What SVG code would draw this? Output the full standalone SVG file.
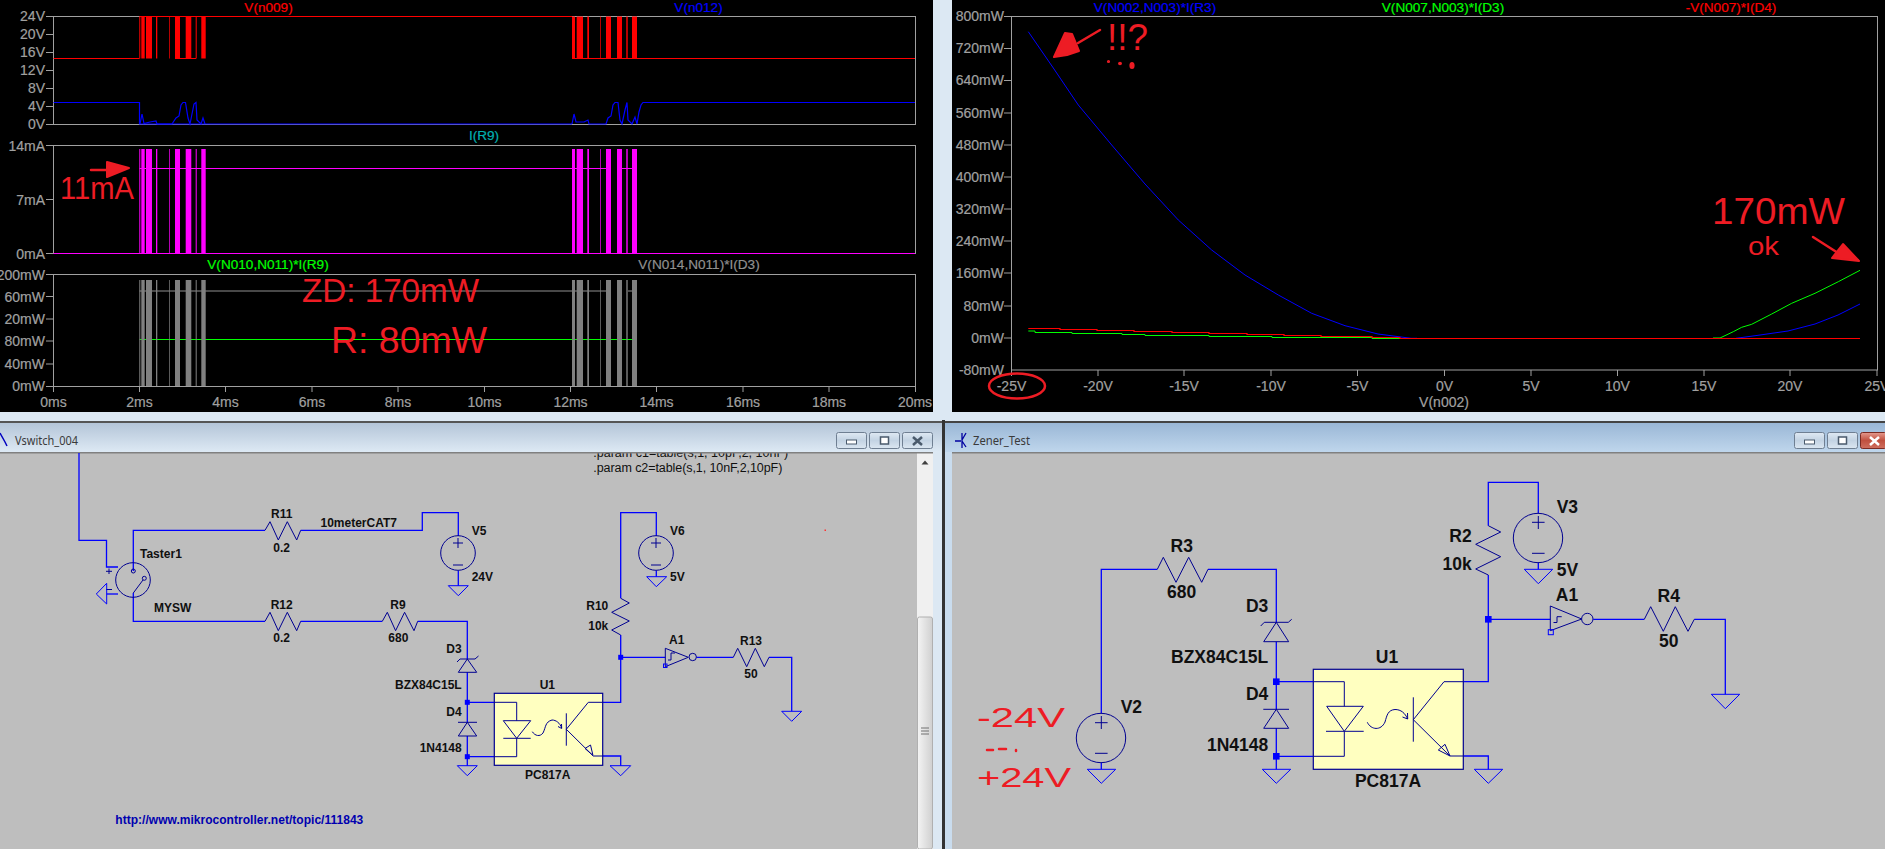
<svg xmlns="http://www.w3.org/2000/svg" width="1885" height="849" viewBox="0 0 1885 849">
<style>
text{font-family:"Liberation Sans",Arial,sans-serif}
.ax{font-size:14px;fill:#a0a0a0;stroke:#a0a0a0;stroke-width:.2}
.e{text-anchor:end}.m{text-anchor:middle}
.pt{font-size:13.6px;stroke-width:.2}
.fr{fill:none;stroke:#a0a0a0;stroke-width:1}
.tr{fill:none;stroke-width:1.2}
.w{fill:none;stroke:#0000ff;stroke-width:1.3}
.c{fill:none;stroke:#000090;stroke-width:1}
.g{fill:none;stroke:#0000ff;stroke-width:1}
.l{font-weight:bold;font-size:12px;fill:#101010}
.L{font-weight:bold;font-size:17.5px;fill:#101010}
.p{font-size:12.5px;fill:#101010}
.t{font-family:"Noto Sans","Open Sans",sans-serif;font-size:12.5px;fill:#3a3a3a}
.hand{fill:#ed1c24;font-family:"Liberation Sans",sans-serif}
.ink{fill:#ed1c24;stroke:#ed1c24;stroke-width:2;stroke-linejoin:round;stroke-linecap:round}
.inkl{fill:none;stroke:#ed1c24;stroke-width:2.5;stroke-linecap:round;stroke-linejoin:round}
.btn{stroke:#6f7f92;stroke-width:1}
.j{fill:#0000ff}
</style>
<defs>
<linearGradient id="tb1" x1="0" y1="0" x2="0" y2="1"><stop offset="0" stop-color="#b4c5d8"/><stop offset="1" stop-color="#dde9f4"/></linearGradient>
<linearGradient id="tb2" x1="0" y1="0" x2="0" y2="1"><stop offset="0" stop-color="#9ab7d6"/><stop offset="1" stop-color="#bfd6ec"/></linearGradient>
<linearGradient id="bt" x1="0" y1="0" x2="0" y2="1"><stop offset="0" stop-color="#dfe9f3"/><stop offset=".5" stop-color="#c3d3e3"/><stop offset="1" stop-color="#dbe6f1"/></linearGradient>
<linearGradient id="bc" x1="0" y1="0" x2="0" y2="1"><stop offset="0" stop-color="#e59a8e"/><stop offset=".5" stop-color="#c0503f"/><stop offset="1" stop-color="#cf6f5f"/></linearGradient>
<linearGradient id="sb" x1="0" y1="0" x2="1" y2="0"><stop offset="0" stop-color="#f4f4f4"/><stop offset="1" stop-color="#d0d0d0"/></linearGradient>
<path id="bursts" d="M139.3 0H140.3V1H139.3ZM141.3 0H144.7V1H141.3ZM146 0H152V1H146ZM156 0H157.3V1H156ZM169.3 0H170V1H169.3ZM175 0H180V1H175ZM185.7 0H191.3V1H185.7ZM195.7 0H196.7V1H195.7ZM201.3 0H205.7V1H201.3ZM572 0H575V1H572ZM576.7 0H583V1H576.7ZM587.3 0H589V1H587.3ZM600 0H600.7V1H600ZM606 0H611V1H606ZM617 0H622V1H617ZM626.3 0H627.7V1H626.3ZM632 0H637V1H632Z"/>
</defs>
<rect width="1885" height="849" fill="#dce8f3"/>

<g id="plot-transient">
<rect x="0" y="0" width="933" height="412" fill="#000"/>
<g class="ax e">
<text x="45" y="21">24V</text><text x="45" y="39">20V</text><text x="45" y="57">16V</text><text x="45" y="75">12V</text><text x="45" y="93">8V</text><text x="45" y="111">4V</text><text x="45" y="129">0V</text>
<text x="45" y="150.5">14mA</text><text x="45" y="204.5">7mA</text><text x="45" y="258.5">0mA</text>
<text x="45" y="279.5">200mW</text><text x="45" y="301.5">60mW</text><text x="45" y="324">20mW</text><text x="45" y="346">80mW</text><text x="45" y="369">40mW</text><text x="45" y="391">0mW</text>
</g>
<g class="ax m">
<text x="53.5" y="407">0ms</text><text x="139.5" y="407">2ms</text><text x="225.5" y="407">4ms</text><text x="312" y="407">6ms</text><text x="398" y="407">8ms</text><text x="484.5" y="407">10ms</text><text x="570.5" y="407">12ms</text><text x="656.5" y="407">14ms</text><text x="743" y="407">16ms</text><text x="829" y="407">18ms</text><text x="915" y="407">20ms</text>
</g>
<text class="pt m" x="268.5" y="12" fill="#ff0000" stroke="#ff0000">V(n009)</text>
<text class="pt m" x="698.5" y="12" fill="#0000ff" stroke="#0000ff">V(n012)</text>
<text class="pt m" x="484" y="140" fill="#00b0b0" stroke="#00b0b0">I(R9)</text>
<text class="pt m" x="268" y="269" fill="#00ff00" stroke="#00ff00">V(N010,N011)*I(R9)</text>
<text class="pt m" x="699" y="269" fill="#909090" stroke="#909090">V(N014,N011)*I(D3)</text>
<rect class="fr" x="53.5" y="16.5" width="862" height="108"/>
<rect class="fr" x="53.5" y="145.5" width="862" height="108"/>
<rect class="fr" x="53.5" y="274.5" width="862" height="112"/>
<path class="fr" d="M46 16.5H53M46 34.5H53M46 52.5H53M46 70.5H53M46 88.5H53M46 106.5H53M46 124.5H53M46 145.5H53M46 199.5H53M46 253.5H53M46 274.5H53M46 296.5H53M46 319H53M46 341H53M46 364H53M46 386.5H53M53.5 387V392M139.5 387V392M225.5 387V392M312 387V392M398 387V392M484.5 387V392M570.5 387V392M656.5 387V392M743 387V392M829 387V392M915.5 387V392"/>
<!-- pane 1 -->
<use href="#bursts" fill="#ff0000" transform="translate(0,16.5) scale(1,42)"/>
<path class="tr" stroke="#ff0000" d="M53.5 58.5H139.5M139.5 16.5H572M175 58.5H196M572 58.5H637H915"/>
<path class="tr" stroke="#0000ff" d="M53.5 102.5H139.5V124H572"/>
<path class="tr" stroke="#0000ff" d="M140 124L142 114L144 123.5L150 122L156 121L157 124H172L176 118L179 116L181 105L183 102.5L185.5 102.5L188 118L190 124L192 114L194 104L196 102.5L197 120L201 124L203 118L205 124"/>
<path class="tr" stroke="#0000ff" d="M572 124L574 114L576 122L584 122L588 120L589 124H606L608 118L611 116L613 105L615 102.5L618 102.5L620 120L622 124L625 110L627 102.5L628 120L632 124L635 117L637 124L639 112L641 105L643 102.5H915"/>
<!-- pane 2 -->
<path class="tr" stroke="#ff00ff" d="M53.5 253.5H915M139.5 168.5H572M572 168.5H611M622 168.5H632"/>
<use href="#bursts" fill="#ff00ff" transform="translate(0,149) scale(1,104.5)"/>
<!-- pane 3 -->
<path class="tr" stroke="#00ff00" d="M139.5 339.5H632"/>
<path class="tr" stroke="#909090" d="M139.5 291H606M628 291H632"/>
<use href="#bursts" fill="#808080" transform="translate(0,280) scale(1,106)"/>
</g>

<g id="plot-dc">
<rect x="952" y="0" width="933" height="412" fill="#000"/>
<g class="ax e">
<text x="1004" y="21">800mW</text><text x="1004" y="53">720mW</text><text x="1004" y="85">640mW</text><text x="1004" y="118">560mW</text><text x="1004" y="150">480mW</text><text x="1004" y="182">400mW</text><text x="1004" y="214">320mW</text><text x="1004" y="246">240mW</text><text x="1004" y="278">160mW</text><text x="1004" y="311">80mW</text><text x="1004" y="343">0mW</text><text x="1004" y="375">-80mW</text>
</g>
<g class="ax m">
<text x="1011.5" y="391">-25V</text><text x="1098" y="391">-20V</text><text x="1184" y="391">-15V</text><text x="1271" y="391">-10V</text><text x="1357.5" y="391">-5V</text><text x="1444.5" y="391">0V</text><text x="1531" y="391">5V</text><text x="1617.5" y="391">10V</text><text x="1704" y="391">15V</text><text x="1790" y="391">20V</text><text x="1877" y="391">25V</text>
<text x="1444" y="407">V(n002)</text>
</g>
<text class="pt m" x="1155" y="12" fill="#0000ff" stroke="#0000ff">V(N002,N003)*I(R3)</text>
<text class="pt m" x="1443" y="12" fill="#00ff00" stroke="#00ff00">V(N007,N003)*I(D3)</text>
<text class="pt m" x="1731" y="12" fill="#ff0000" stroke="#ff0000">-V(N007)*I(D4)</text>
<rect class="fr" x="1011.5" y="16.5" width="866" height="353.5"/>
<path class="fr" d="M1004 16.5H1011M1004 48.5H1011M1004 80.5H1011M1004 113H1011M1004 145H1011M1004 177H1011M1004 209H1011M1004 241H1011M1004 273H1011M1004 306H1011M1004 338H1011M1011.5 370V376M1098 370V376M1184 370V376M1271 370V376M1357.5 370V376M1444.5 370V376M1531 370V376M1617.5 370V376M1704 370V376M1790 370V376M1877 370V376"/>
<path fill="none" stroke="#0000ff" stroke-width="1" d="M1028.3 31.7L1053.3 68L1078.3 105L1111.7 145L1145 184L1178.3 220L1211.7 250L1245 275L1278.3 295L1311.7 313.3L1345 325.7L1378 334L1411 338.3H1417M1736 338.3L1758 335.3L1788 331L1815 324L1838 315L1860 304"/>
<path fill="none" stroke="#00ff00" stroke-width="1" d="M1028.3 331H1035V332.5H1072V333.5H1122V334.5H1145V335.5H1209V336.5H1272V337.5H1372V338.5H1412M1713 338H1720L1733.3 331.7L1741.7 327.3L1751.7 324.3L1771.7 314L1791.7 303.3L1815 293.3L1838.3 281.7L1860 270.3"/>
<path fill="none" stroke="#ff0000" stroke-width="1.2" d="M1028.3 328.5H1060V329.5H1097V330.5H1134V331.5H1172V332.5H1209V333.5H1247V334.5H1284V335.5H1321V336.5H1372V337.5H1400V338.5H1860"/>
</g>

<g id="schematic-left-window">
<rect x="0" y="453" width="917" height="396" fill="#bebebe"/>
<rect x="917" y="453" width="16" height="396" fill="#f0f0f0"/>
<rect x="917.5" y="617" width="15" height="232" fill="url(#sb)" stroke="#b0b0b0" rx="2"/>
<path d="M925 460.5L921.5 464.5H928.5Z" fill="#404040"/>
<path d="M921 728H929M921 731H929M921 734H929" stroke="#707070"/>
<text class="p" x="593.3" y="457">.param c1=table(s,1, 10pF,2, 10nF)</text>
<text class="p" x="593.3" y="472.3" textLength="189">.param c2=table(s,1, 10nF,2,10pF)</text>
<text class="l" x="115.3" y="824" textLength="248" style="fill:#0000b0">http://www.mikrocontroller.net/topic/111843</text>
<rect x="824.5" y="529.5" width="1.5" height="1.5" fill="#ff3030"/>
<rect x="0" y="421" width="942" height="2" fill="#555"/>
<rect x="0" y="423" width="942" height="29" fill="url(#tb1)"/>
<rect x="0" y="452" width="933" height="1.5" fill="#808080"/>
<path d="M0 433L5 442L7 446" stroke="#0000c0" stroke-width="1.5" fill="none"/>
<text class="t" x="15" y="445" textLength="63" lengthAdjust="spacingAndGlyphs">Vswitch_004</text>
<rect class="btn" x="836.5" y="432.5" width="30" height="16" rx="2" fill="url(#bt)"/>
<rect class="btn" x="869.5" y="432.5" width="30" height="16" rx="2" fill="url(#bt)"/>
<rect class="btn" x="902.5" y="432.5" width="30" height="16" rx="2" fill="url(#bt)"/>
<rect x="846.5" y="440" width="10" height="4" fill="#fff" stroke="#4a5a6c"/>
<rect x="880.5" y="437" width="8" height="7" fill="#fff" stroke="#4a5a6c" stroke-width="1.5"/>
<path d="M913 437L922 445M922 437L913 445" stroke="#4a5a6c" stroke-width="2.5"/>
<rect x="942" y="420" width="3" height="429" fill="#333"/>
</g>

<g id="schematic-right-window">
<rect x="952" y="453" width="933" height="396" fill="#bebebe"/>
<rect x="945" y="423" width="7" height="426" fill="#c9dcee"/>
<rect x="945" y="421" width="940" height="2" fill="#444"/>
<rect x="945" y="423" width="940" height="29" fill="url(#tb2)"/>
<rect x="952" y="452" width="933" height="1.5" fill="#808080"/>
<path d="M955 441H961M962 433V448M962 440L966 433M962 441L966 447" stroke="#0000a0" stroke-width="1.3" fill="none"/>
<text class="t" x="973" y="445" textLength="57" lengthAdjust="spacingAndGlyphs">Zener_Test</text>
<rect class="btn" x="1794.5" y="432.5" width="30" height="16" rx="2" fill="url(#bt)"/>
<rect class="btn" x="1827.5" y="432.5" width="30" height="16" rx="2" fill="url(#bt)"/>
<rect x="1860.5" y="432.5" width="26" height="16" rx="2" fill="url(#bc)" stroke="#7a2a22"/>
<rect x="1804.5" y="440" width="10" height="4" fill="#fff" stroke="#4a5a6c"/>
<rect x="1838.5" y="437" width="8" height="7" fill="#fff" stroke="#4a5a6c" stroke-width="1.5"/>
<path d="M1870 437L1879 445M1879 437L1870 445" stroke="#fff" stroke-width="2.5"/>
</g>

<g id="annotations">
<text class="hand" x="60" y="199" font-size="32" textLength="74" lengthAdjust="spacingAndGlyphs">11mA</text>
<path class="inkl" d="M91 170H118"/><path class="ink" d="M107 162L129 168L107 177Z"/>
<text class="hand" x="302" y="302" font-size="34" textLength="177" lengthAdjust="spacingAndGlyphs">ZD: 170mW</text>
<text class="hand" x="331" y="353" font-size="36" textLength="156" lengthAdjust="spacingAndGlyphs">R: 80mW</text>
<text class="hand" x="1107" y="50" font-size="37" textLength="41" lengthAdjust="spacingAndGlyphs">!!?</text>
<ellipse class="ink" cx="1108.5" cy="61.5" rx=".6" ry=".6"/><ellipse class="ink" cx="1120" cy="63.5" rx="1" ry=".8"/><ellipse class="ink" cx="1132" cy="65.5" rx="1.6" ry="2.6"/>
<path class="inkl" d="M1100 30L1078 43"/><path class="ink" d="M1054 57L1065 33L1072 34L1079 51L1067 55Z"/>
<ellipse class="inkl" cx="1017" cy="386" rx="28" ry="12.5" fill="none"/>
<text class="hand" x="1712" y="224" font-size="36" textLength="133" lengthAdjust="spacingAndGlyphs">170mW</text>
<text class="hand" x="1748" y="255" font-size="26" textLength="31" lengthAdjust="spacingAndGlyphs">ok</text>
<path class="inkl" d="M1813 237L1838 253"/><path class="ink" d="M1832 258L1843 244L1859 261Z"/>
<text class="hand" x="977" y="727" font-size="28" textLength="88" lengthAdjust="spacingAndGlyphs">-24V</text>
<path class="inkl" d="M987 750H993M999 749H1006M1016 750V751"/>
<text class="hand" x="977" y="787" font-size="28" textLength="94" lengthAdjust="spacingAndGlyphs">+24V</text>
</g>

<g id="connectors">
<!-- left schematic wires -->
<path class="w" d="M79 453V540.3H106.5V567H118"/>
<path class="w" d="M133.3 571V530.3H265M300.7 530.3H422.3V512.7H458.3V536"/>
<path class="w" d="M458.3 570.5V585.7"/>
<path class="w" d="M133.3 593V621.3H265M300.7 621.3H382.3M417.7 621.3H467.3V659"/>
<path class="w" d="M467.3 672.3V722.3M467.3 736V765.7"/>
<path class="w" d="M467.3 702.3H516.7V720.7M516.7 738.3V756.7H467.3"/>
<path class="w" d="M588.3 702.3H620.7V635M620.7 598.3V512.7H656.3V536M656.3 570.5V576.7"/>
<path class="w" d="M620.7 657.3H665.3M696.7 657.3H733.3M769 657.3H791.7V711.3"/>
<path class="w" d="M593.3 756H620.7V765.7"/>
<path class="w" d="M106.7 594H118"/>
<!-- right schematic wires -->
<path class="w" d="M1101.3 713.3V569.3H1157.3M1208 569.3H1276.3V622.3"/>
<path class="w" d="M1276.3 641.7V709.3M1276.3 728.3V769.3"/>
<path class="w" d="M1276.3 681.7H1344.3V706.3M1344.3 731.3V756.3H1276.3"/>
<path class="w" d="M1444 681.7H1488.3V575M1488.3 525.7V482.3H1538.3V513.3M1538.3 562.7V569.3"/>
<path class="w" d="M1488.3 619.3H1550.3M1593.3 619.3H1644.3M1694.3 619.3H1725.3V694.3"/>
<path class="w" d="M1450 756H1488.3V769.3"/>
<path class="w" d="M1101.3 762.7V769.3"/>
</g>

<g id="Taster1">
<circle class="c" cx="133" cy="580" r="17.3"/><circle class="c" cx="133.3" cy="571" r="2"/><circle class="c" cx="144.3" cy="578.3" r="2"/>
<path class="c" d="M133.3 593L143 580M106 571.3H112M109 568.5V574M106 589.5H112"/>
<path class="g" d="M106.7 583.3V604L96.3 594Z"/>
<text class="l" x="140" y="558.3">Taster1</text>
<text class="l" x="154" y="611.7">MYSW</text>
</g>
<g id="R11"><path class="c" d="M265 530.3L270 521.7L278.3 540L287.3 521.7L296.7 540L300.7 530.3"/><text class="l m" x="281.7" y="517.7">R11</text><text class="l m" x="281.7" y="552.3">0.2</text><text class="l" x="320.5" y="527">10meterCAT7</text></g>
<g id="R12"><path class="c" d="M265 621.3L270 612.3L278.3 630.7L287.3 612.3L296.7 630.7L300.7 621.3"/><text class="l m" x="281.7" y="609">R12</text><text class="l m" x="281.7" y="642.3">0.2</text></g>
<g id="R9"><path class="c" d="M382.3 621.3L387.3 612.3L395.6 630.7L404.6 612.3L414 630.7L417.7 621.3"/><text class="l m" x="398" y="609">R9</text><text class="l m" x="398.3" y="642.3">680</text></g>
<g id="V5"><circle class="c" cx="458" cy="553" r="17.3"/><path class="c" d="M453 543H463M458 538V548M453 565H463"/><path class="g" d="M448.3 585.7H468.3L458.3 595.7Z"/><text class="l" x="471.7" y="535">V5</text><text class="l" x="471.7" y="581.3">24V</text></g>
<g id="V6"><circle class="c" cx="656" cy="553" r="17.3"/><path class="c" d="M651 543H661M656 538V548M651 565H661"/><path class="g" d="M646.7 576.7H666.7L656.3 586.7Z"/><text class="l" x="670" y="535">V6</text><text class="l" x="670" y="581.3">5V</text></g>
<g id="D3"><path class="c" d="M458.3 672.3H476.7L467.3 659ZM457 662L460 659H475L478.5 656"/><text class="l e" x="461.7" y="653">D3</text><text class="l e" x="461.7" y="689">BZX84C15L</text></g>
<g id="D4"><path class="c" d="M458.3 736H476.7L467.3 722.3ZM458 722.3H477"/><text class="l e" x="461.7" y="716.3">D4</text><text class="l e" x="461.7" y="752.3">1N4148</text><path class="g" d="M457.3 765.7H477.3L467.3 775.7Z"/></g>
<g id="U1"><rect x="494.3" y="693.3" width="108.4" height="72" fill="#ffffc0" stroke="#000090" stroke-width="1.2"/>
<path class="c" d="M494.3 702.3H516.7V720.7M516.7 738.3V756.7H494.3M503.3 720.7H530.7L516.7 738.3ZM503.3 738.3H530.7M532.3 731.7C535 736 540 737 543 733C546 727 545 722 552 720C556 720 560 723 561.7 728M558 726.5L561.7 728.5L561.5 724M566.3 713.3V745.7M566.3 729.3L588.3 702.3H602.7M566.3 729.3L593.3 756H602.7M585 748.5L593 755.5L590.5 745Z"/>
<text class="l m" x="547.3" y="689">U1</text><text class="l m" x="547.7" y="779">PC817A</text><path class="g" d="M610 765.7H630.7L620.7 775.7Z"/></g>
<g id="R10"><path class="c" d="M620.7 635L611.7 630L629.3 621L611.7 612.3L629.3 603L620.7 598.3"/><text class="l e" x="608.3" y="610">R10</text><text class="l e" x="608.3" y="630.3">10k</text></g>
<g id="A1"><path class="c" d="M665.3 648.3V666.7L688.3 657.3ZM668 660H671V653H675"/><circle class="c" cx="692.7" cy="657" r="3.7"/><rect x="663.5" y="664" width="3.5" height="3.5" fill="none" stroke="#0000ff"/><text class="l m" x="676.7" y="644">A1</text></g>
<g id="R13"><path class="c" d="M733.3 657.3L737.7 648.3L746.7 666.7L755.3 648.3L764.3 666.7L769 657.3"/><text class="l m" x="751" y="645">R13</text><text class="l m" x="751" y="678.3">50</text><path class="g" d="M781.7 711.3H801.7L791.7 721.3Z"/></g>
<rect class="j" x="464.8" y="699.8" width="5" height="5"/><rect class="j" x="464.8" y="754.2" width="5" height="5"/><rect class="j" x="618.2" y="654.8" width="5" height="5"/>

<g id="V2"><circle class="c" cx="1101" cy="738" r="24.7"/><path class="c" d="M1095 722.7H1107.6M1101.3 716V729M1095 753.3H1107.6"/><path class="g" d="M1087.3 769.3H1115.7L1101.3 783.3Z"/><text class="L" x="1120.7" y="712.7">V2</text></g>
<g id="R3"><path class="c" d="M1157.3 569.3L1163.3 557.3L1176 582.3L1188.7 557.3L1201.7 582.3L1208 569.3"/><text class="L m" x="1181.7" y="552.3">R3</text><text class="L m" x="1181.7" y="598.3">680</text></g>
<g id="D3r"><path class="c" d="M1263.7 641.7H1288.7L1276.3 622.3ZM1260.7 626L1264.3 622.3H1288.3L1291.7 619.3"/><text class="L e" x="1268.3" y="612.3">D3</text><text class="L e" x="1268.3" y="662.7">BZX84C15L</text></g>
<g id="D4r"><path class="c" d="M1263.7 728.3H1288.7L1276.3 709.3ZM1263.3 709.3H1289"/><text class="L e" x="1268.3" y="700.3">D4</text><text class="L e" x="1268.3" y="750.7">1N4148</text><path class="g" d="M1262.3 769.3H1290.7L1276.3 783.3Z"/></g>
<g id="U1r"><rect x="1313.3" y="669.3" width="150" height="100" fill="#ffffc0" stroke="#000090" stroke-width="1.2"/>
<path class="c" d="M1313.3 681.7H1344.3V706.3M1344.3 731.3V756.3H1313.3M1326.7 706.3H1363.3L1344.3 731.3ZM1326 731.3H1363.7M1367.3 722.3C1371 730 1381 731 1385 722C1387 715 1388 710 1395 709.5C1401 709.5 1405 713 1407.7 719M1402.5 717L1407.7 719L1407.5 713M1413.3 697.3V741.7M1413.3 719.7L1444 681.7H1463.3M1413.3 719.7L1450 756H1463.3M1438.3 750L1445 744.3L1450 756Z"/>
<text class="L m" x="1387" y="662.7">U1</text><text class="L m" x="1388" y="787.3">PC817A</text><path class="g" d="M1474.3 769.3H1502.7L1488.3 783.3Z"/></g>
<g id="R2"><path class="c" d="M1488.3 575L1475.7 569L1500.7 556.7L1475.7 544.3L1500.7 532L1488.3 525.7"/><text class="L e" x="1471.7" y="541.7">R2</text><text class="L e" x="1471.7" y="569.7">10k</text></g>
<g id="V3"><circle class="c" cx="1538" cy="538" r="24.7"/><path class="c" d="M1532 522.3H1544.6M1538.3 516V529M1532 553.3H1544.6"/><path class="g" d="M1524.3 569.3H1552.7L1538.3 583.7Z"/><text class="L" x="1556.7" y="513.3">V3</text><text class="L" x="1556.7" y="575.7">5V</text></g>
<g id="A1r"><path class="c" d="M1550.3 606V630.7L1581.7 619ZM1553.5 622.5H1557V616.7H1561.7"/><circle class="c" cx="1587.3" cy="619" r="5.7"/><rect x="1548.3" y="629.7" width="5" height="5" fill="none" stroke="#0000ff"/><text class="L m" x="1567" y="600.7">A1</text></g>
<g id="R4"><path class="c" d="M1644.3 619.3L1650.7 606.7L1663.3 631.3L1675.3 606.7L1688 631.3L1694.3 619.3"/><text class="L m" x="1668.7" y="601.7">R4</text><text class="L m" x="1668.7" y="647.3">50</text><path class="g" d="M1711.3 694.3H1739.7L1725.3 708.7Z"/></g>
<rect class="j" x="1273" y="678.4" width="6.6" height="6.6"/><rect class="j" x="1273" y="753" width="6.6" height="6.6"/><rect class="j" x="1485" y="616" width="6.6" height="6.6"/>
</svg>
